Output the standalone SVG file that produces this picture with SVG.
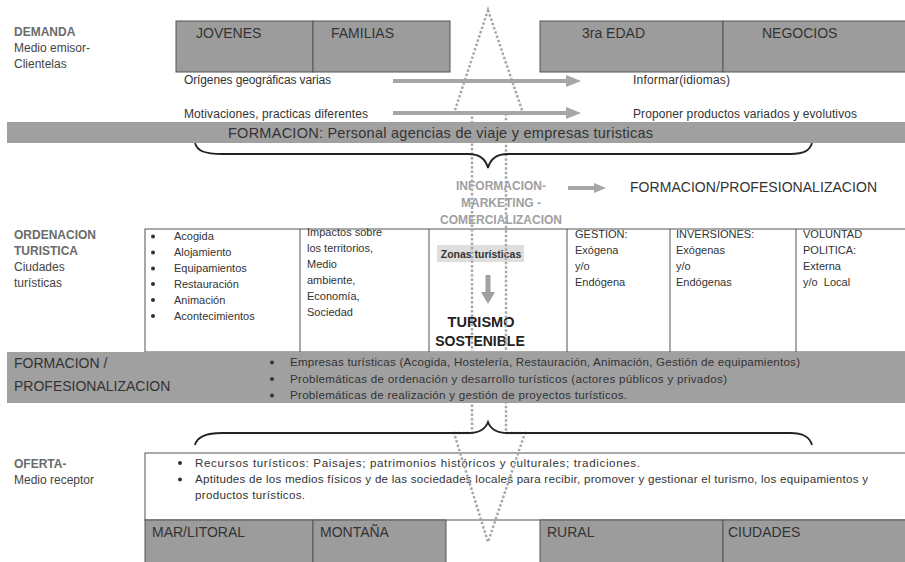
<svg xmlns="http://www.w3.org/2000/svg" width="905" height="562" viewBox="0 0 905 562">
<style>
text{font-family:"Liberation Sans",Arial,sans-serif;}
.s{font-size:11px;fill:#333}
.sb{font-size:11.6px;fill:#333}
.m{font-size:12px;fill:#333}
.hd{font-size:12px;font-weight:bold;fill:#6b6b6b}
.sub{font-size:12px;fill:#444}
.lbl{font-size:14px;fill:#333}
.box{fill:#9c9c9c;stroke:#555;stroke-width:1}
.band{fill:#a0a0a0}
.cell{fill:#fff;stroke:#555;stroke-width:1}
.arr{stroke:#a6a6a6;stroke-width:4;fill:none}
.ah{fill:#a6a6a6}
.dot{fill:none;stroke:#a8a8a8;stroke-width:2.5;stroke-dasharray:2.5 2}
.brace{fill:none;stroke:#222;stroke-width:1.8}
.bul{fill:#333}
.info{font-size:12px;font-weight:bold;fill:#a0a0a0;text-anchor:middle}
</style>
<rect width="905" height="562" fill="#fff"/>

<g id="demanda-label">
<text class="hd" x="14" y="36">DEMANDA</text>
<text class="sub" x="14" y="52">Medio emisor-</text>
<text class="sub" x="14" y="68">Clientelas</text>
</g>
<g id="jovenes"><rect class="box" x="176" y="21" width="137" height="51"/><text class="lbl" x="196" y="38">JOVENES</text></g>
<g id="familias"><rect class="box" x="313" y="21" width="137" height="51"/><text class="lbl" x="331" y="38">FAMILIAS</text></g>
<g id="tercera-edad"><rect class="box" x="540" y="21" width="183" height="51"/><text class="lbl" x="582" y="38">3ra EDAD</text></g>
<g id="negocios"><rect class="box" x="723" y="21" width="190" height="51"/><text class="lbl" x="762" y="38">NEGOCIOS</text></g>

<g id="origenes"><text class="m" x="184" y="84" textLength="147">Orígenes geográficas varias</text></g>
<g id="informar"><text class="m" x="633" y="84" textLength="97">Informar(idiomas)</text></g>
<g id="motivaciones"><text class="m" x="184" y="118" textLength="184">Motivaciones, practicas diferentes</text></g>
<g id="proponer"><text class="m" x="633" y="118" textLength="224">Proponer productos variados y evolutivos</text></g>

<g id="info-marketing">
<text class="info" x="501" y="190">INFORMACION-</text>
<text class="info" x="501" y="207">MARKETING -</text>
<text class="info" x="501" y="224">COMERCIALIZACION</text>
</g>
<g id="formacion-prof"><text class="lbl" x="630" y="192" fill="#222" textLength="247">FORMACION/PROFESIONALIZACION</text></g>

<g id="ordenacion-label">
<text class="hd" x="14" y="239">ORDENACION</text>
<text class="hd" x="14" y="255">TURISTICA</text>
<text class="sub" x="14" y="271">Ciudades</text>
<text class="sub" x="14" y="287">turísticas</text>
</g>

<g id="tabla-ordenacion">
<rect class="cell" x="145" y="229" width="770" height="123"/>
<line x1="300" y1="229" x2="300" y2="352" stroke="#555"/>
<line x1="429" y1="229" x2="429" y2="352" stroke="#555"/>
<line x1="567" y1="229" x2="567" y2="352" stroke="#555"/>
<line x1="670" y1="229" x2="670" y2="352" stroke="#555"/>
<line x1="796" y1="229" x2="796" y2="352" stroke="#555"/>
</g>
<g id="servicios">
<circle class="bul" cx="153" cy="236.5" r="2"/><text class="s" x="174" y="240">Acogida</text>
<circle class="bul" cx="153" cy="252.5" r="2"/><text class="s" x="174" y="256">Alojamiento</text>
<circle class="bul" cx="153" cy="268.5" r="2"/><text class="s" x="174" y="272">Equipamientos</text>
<circle class="bul" cx="153" cy="284" r="2"/><text class="s" x="174" y="287.5">Restauración</text>
<circle class="bul" cx="153" cy="300" r="2"/><text class="s" x="174" y="303.5">Animación</text>
<circle class="bul" cx="153" cy="316" r="2"/><text class="s" x="174" y="320">Acontecimientos</text>
</g>
<g id="impactos">
<text class="s" x="307" y="236">Impactos sobre</text>
<text class="s" x="307" y="252">los territorios,</text>
<text class="s" x="307" y="268">Medio</text>
<text class="s" x="307" y="284">ambiente,</text>
<text class="s" x="307" y="300">Economía,</text>
<text class="s" x="307" y="316">Sociedad</text>
</g>
<g id="zonas">
<rect x="437" y="245" width="87" height="17" fill="#dedede"/>
<text x="481" y="258" font-size="10.5" font-weight="bold" fill="#333" text-anchor="middle">Zonas turísticas</text>
</g>
<g id="turismo-sostenible">
<text x="481" y="327" font-size="14.5" font-weight="bold" fill="#222" text-anchor="middle">TURISMO</text>
<text x="480" y="346" font-size="14" font-weight="bold" fill="#222" text-anchor="middle">SOSTENIBLE</text>
</g>
<g id="gestion">
<text class="s" x="575" y="238">GESTION:</text>
<text class="s" x="575" y="254">Exógena</text>
<text class="s" x="575" y="270">y/o</text>
<text class="s" x="575" y="286">Endógena</text>
</g>
<g id="inversiones">
<text class="s" x="676" y="238">INVERSIONES:</text>
<text class="s" x="676" y="254">Exógenas</text>
<text class="s" x="676" y="270">y/o</text>
<text class="s" x="676" y="286">Endógenas</text>
</g>
<g id="voluntad">
<text class="s" x="803" y="238">VOLUNTAD</text>
<text class="s" x="803" y="254">POLITICA:</text>
<text class="s" x="803" y="270">Externa</text>
<text class="s" x="803" y="286" xml:space="preserve">y/o  Local</text>
</g>

<g id="oferta-label">
<text class="hd" x="14" y="468">OFERTA-</text>
<text class="sub" x="14" y="484">Medio receptor</text>
</g>
<g id="oferta">
<rect class="cell" x="145" y="453" width="770" height="67"/>
<circle class="bul" cx="180" cy="463" r="2"/><text class="sb" x="195" y="466.5" textLength="445">Recursos turísticos: Paisajes; patrimonios históricos y culturales; tradiciones.</text>
<circle class="bul" cx="180" cy="479.5" r="2"/><text class="sb" x="195" y="483" textLength="673">Aptitudes de los medios físicos y de las sociedades locales para recibir, promover y gestionar el turismo, los equipamientos y</text>
<text class="sb" x="195" y="499" textLength="110">productos turísticos.</text>
</g>
<g id="mar-litoral"><rect class="box" x="145" y="520" width="168" height="50"/><text class="lbl" x="152" y="537">MAR/LITORAL</text></g>
<g id="montana"><rect class="box" x="313" y="520" width="133" height="50"/><text class="lbl" x="320" y="537">MONTAÑA</text></g>
<g id="rural"><rect class="box" x="540" y="520" width="183" height="50"/><text class="lbl" x="547" y="537">RURAL</text></g>
<g id="ciudades"><rect class="box" x="723" y="520" width="190" height="50"/><text class="lbl" x="728" y="537">CIUDADES</text></g>

<g id="connectors">
<path class="dot" d="M488,10 L523,113 L506,113 L506,433 L525,433 L488,542 L454,433 L472,433 L472,113 L454,113 Z"/>
<line class="arr" x1="393" y1="81" x2="568" y2="81"/>
<polygon class="ah" points="566,75 581,81 566,87"/>
<line class="arr" x1="393" y1="113" x2="568" y2="113"/>
<polygon class="ah" points="566,107 581,113 566,119"/>
<line class="arr" x1="568" y1="188" x2="596" y2="188"/>
<polygon class="ah" points="594,183 606,188 594,193"/>
<line x1="488" y1="275" x2="488" y2="294" stroke="#a0a0a0" stroke-width="5"/>
<polygon points="481,292 495,292 488,304" fill="#a0a0a0"/>
<path class="brace" d="M195,143 C197,151 205,154 222,154 L468,154 C481,154 486,160 488,168 C490,160 495,154 508,154 L790,154 C805,154 810,150 812,143"/>
<path class="brace" d="M195,445 C197,437 205,433 222,433 L468,433 C481,433 486,428 488,422 C490,428 495,433 508,433 L790,433 C805,433 810,438 812,445"/>
</g>

<g id="formacion-personal">
<rect class="band" x="7" y="122" width="900" height="21"/>
<text x="228" y="138" font-size="14.5" fill="#333" textLength="425">FORMACION: Personal agencias de viaje y empresas turisticas</text>
</g>
<g id="formacion-profesionalizacion">
<rect class="band" x="7" y="352" width="900" height="51"/>
<text class="lbl" x="14" y="368">FORMACION /</text>
<text class="lbl" x="14" y="391">PROFESIONALIZACION</text>
<circle class="bul" cx="272" cy="362.5" r="2"/><text class="sb" x="290" y="366" fill="#3a3a3a" textLength="510">Empresas turísticas (Acogida, Hostelería, Restauración, Animación, Gestión de equipamientos)</text>
<circle class="bul" cx="272" cy="379" r="2"/><text class="sb" x="290" y="382.5" fill="#3a3a3a" textLength="437">Problemáticas de ordenación y desarrollo turísticos (actores públicos y privados)</text>
<circle class="bul" cx="272" cy="395.5" r="2"/><text class="sb" x="290" y="399" fill="#3a3a3a" textLength="337">Problemáticas de realización y gestión de proyectos turísticos.</text>
</g>
</svg>
